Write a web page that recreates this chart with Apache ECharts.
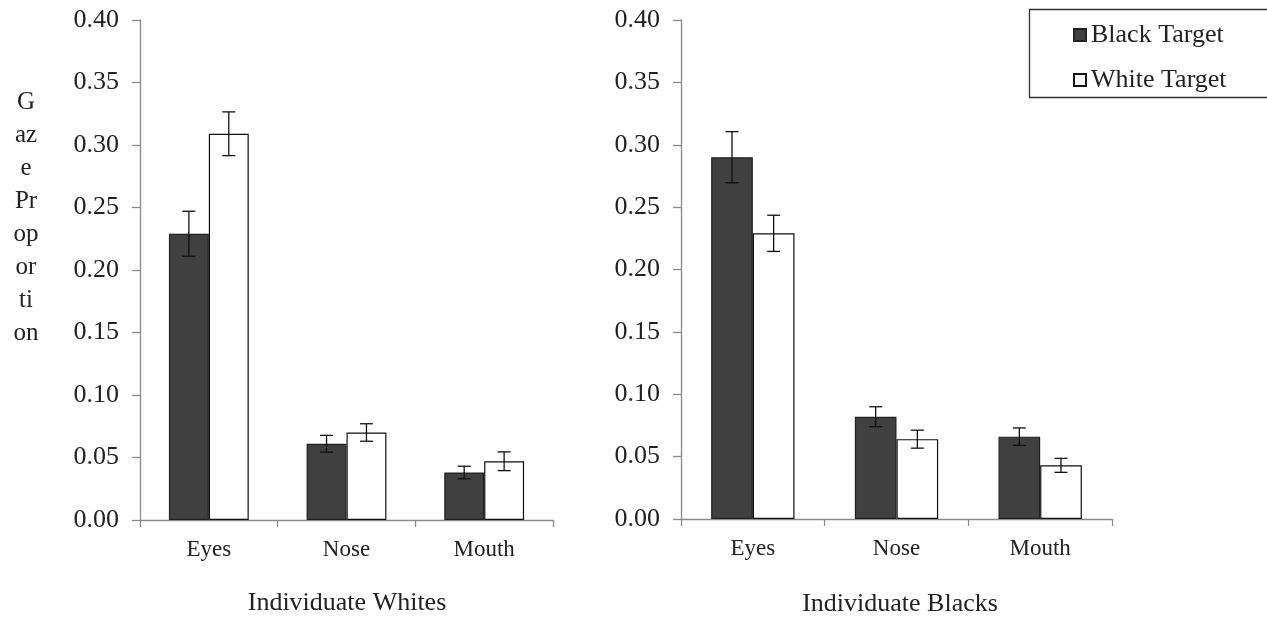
<!DOCTYPE html>
<html>
<head>
<meta charset="utf-8">
<script src="https://cdn.jsdelivr.net/npm/echarts@6/dist/echarts.min.js"></script>
<style>html,body{margin:0;padding:0;background:#fff}#c{width:1267px;height:620px}</style>
</head>
<body>
<div id="c"></div>
<script>
const categories = ['Eyes', 'Nose', 'Mouth'];
const seriesNames = ['Black Target', 'White Target'];
const panelTitles = ['Individuate Whites', 'Individuate Blacks'];
const yAxisName = 'G\naz\ne\nPr\nop\nor\nti\non';

// Individuate Whites panel
const whitesBlack = [0.229, 0.061, 0.038];
const whitesBlackErr = [0.018, 0.0067, 0.005];
const whitesWhite = [0.309, 0.070, 0.047];
const whitesWhiteErr = [0.0175, 0.007, 0.0075];

// Individuate Blacks panel
const blacksBlack = [0.290, 0.082, 0.066];
const blacksBlackErr = [0.0205, 0.008, 0.007];
const blacksWhite = [0.229, 0.064, 0.043];
const blacksWhiteErr = [0.0145, 0.0072, 0.0056];

const FONT = '"Liberation Serif", "Times New Roman", serif';
const chart = echarts.init(document.getElementById('c'));

function errSeries(idx, blackVals, blackErr, whiteVals, whiteErr) {
  const data = [];
  for (let i = 0; i < categories.length; i++) {
    data.push([i, blackVals[i], blackErr[i], 0]);
    data.push([i, whiteVals[i], whiteErr[i], 1]);
  }
  return {
    type: 'custom',
    xAxisIndex: idx, yAxisIndex: idx,
    silent: true, z: 10,
    data: data,
    renderItem: function (params, api) {
      const cat = api.value(0), v = api.value(1), e = api.value(2), s = api.value(3);
      const bandW = api.size([1, 0])[0];
      const barW = bandW * 0.58 / 2;
      const c = api.coord([cat, v]);
      const x = c[0] + (s === 0 ? -barW / 2 : barW / 2);
      const yt = api.coord([cat, v + e])[1];
      const yb = api.coord([cat, v - e])[1];
      const cap = 6.5;
      const st = { stroke: '#111', lineWidth: 1.3 };
      return {
        type: 'group',
        children: [
          { type: 'line', shape: { x1: x, y1: yt, x2: x, y2: yb }, style: st },
          { type: 'line', shape: { x1: x - cap, y1: yt, x2: x + cap, y2: yt }, style: st },
          { type: 'line', shape: { x1: x - cap, y1: yb, x2: x + cap, y2: yb }, style: st }
        ]
      };
    }
  };
}

function barSeries(idx, name, vals, color) {
  return {
    name: name, type: 'bar',
    xAxisIndex: idx, yAxisIndex: idx,
    data: vals,
    barGap: '0%', barCategoryGap: '42%',
    itemStyle: { color: color, borderColor: name === seriesNames[0] ? '#222' : '#111', borderWidth: 1.2 },
    emphasis: { disabled: true }
  };
}

const axisLineStyle = { color: '#8a8a8a', width: 1.3 };

function xAxis(idx) {
  return {
    type: 'category', gridIndex: idx, data: categories,
    axisLine: { lineStyle: axisLineStyle },
    axisTick: { show: true, length: 7, lineStyle: axisLineStyle },
    axisLabel: { fontFamily: FONT, fontSize: 23, color: '#222', margin: 18 }
  };
}
function yAxis(idx) {
  return {
    type: 'value', gridIndex: idx, min: 0, max: 0.4, interval: 0.05,
    axisLine: { show: true, lineStyle: axisLineStyle },
    axisTick: { show: true, length: 8, lineStyle: axisLineStyle },
    splitLine: { show: false },
    axisLabel: { fontFamily: FONT, fontSize: 26, color: '#222', margin: 21,
      formatter: v => v.toFixed(2) }
  };
}

chart.setOption({
  animation: false,
  backgroundColor: '#fff',
  grid: [
    { left: 140, right: 1267 - 553, top: 20, bottom: 100 },
    { left: 681, right: 1267 - 1112, top: 20, bottom: 101 }
  ],
  xAxis: [xAxis(0), xAxis(1)],
  yAxis: [yAxis(0), yAxis(1)],
  legend: {
    data: seriesNames.map(n => ({ name: n, icon: 'rect' })),
    orient: 'vertical',
    left: 1073, top: 22, padding: 0,
    itemWidth: 12, itemHeight: 12, itemGap: 19,
    textStyle: { fontFamily: FONT, fontSize: 26, lineHeight: 26, color: '#222', padding: [0, 0, 0, 0] },
    selectedMode: false
  },
  graphic: [
    { type: 'rect', shape: { x: 1029.5, y: 9.5, width: 250, height: 88 },
      style: { fill: 'none', stroke: '#333', lineWidth: 1.3 }, z: 0 },
    { type: 'text', style: { text: yAxisName, x: 26, y: 86, fontFamily: FONT, fontSize: 25,
      fill: '#222', align: 'center', verticalAlign: 'top', lineHeight: 33 } },
    { type: 'text', style: { text: panelTitles[0], x: 347, y: 603, fontFamily: FONT, fontSize: 26, fill: '#222',
      align: 'center', verticalAlign: 'middle' } },
    { type: 'text', style: { text: panelTitles[1], x: 900, y: 604, fontFamily: FONT, fontSize: 26, fill: '#222',
      align: 'center', verticalAlign: 'middle' } }
  ],
  series: [
    barSeries(0, seriesNames[0], whitesBlack, '#404040'),
    barSeries(0, seriesNames[1], whitesWhite, '#ffffff'),
    barSeries(1, seriesNames[0], blacksBlack, '#404040'),
    barSeries(1, seriesNames[1], blacksWhite, '#ffffff'),
    errSeries(0, whitesBlack, whitesBlackErr, whitesWhite, whitesWhiteErr),
    errSeries(1, blacksBlack, blacksBlackErr, blacksWhite, blacksWhiteErr)
  ]
});
</script>
</body>
</html>
